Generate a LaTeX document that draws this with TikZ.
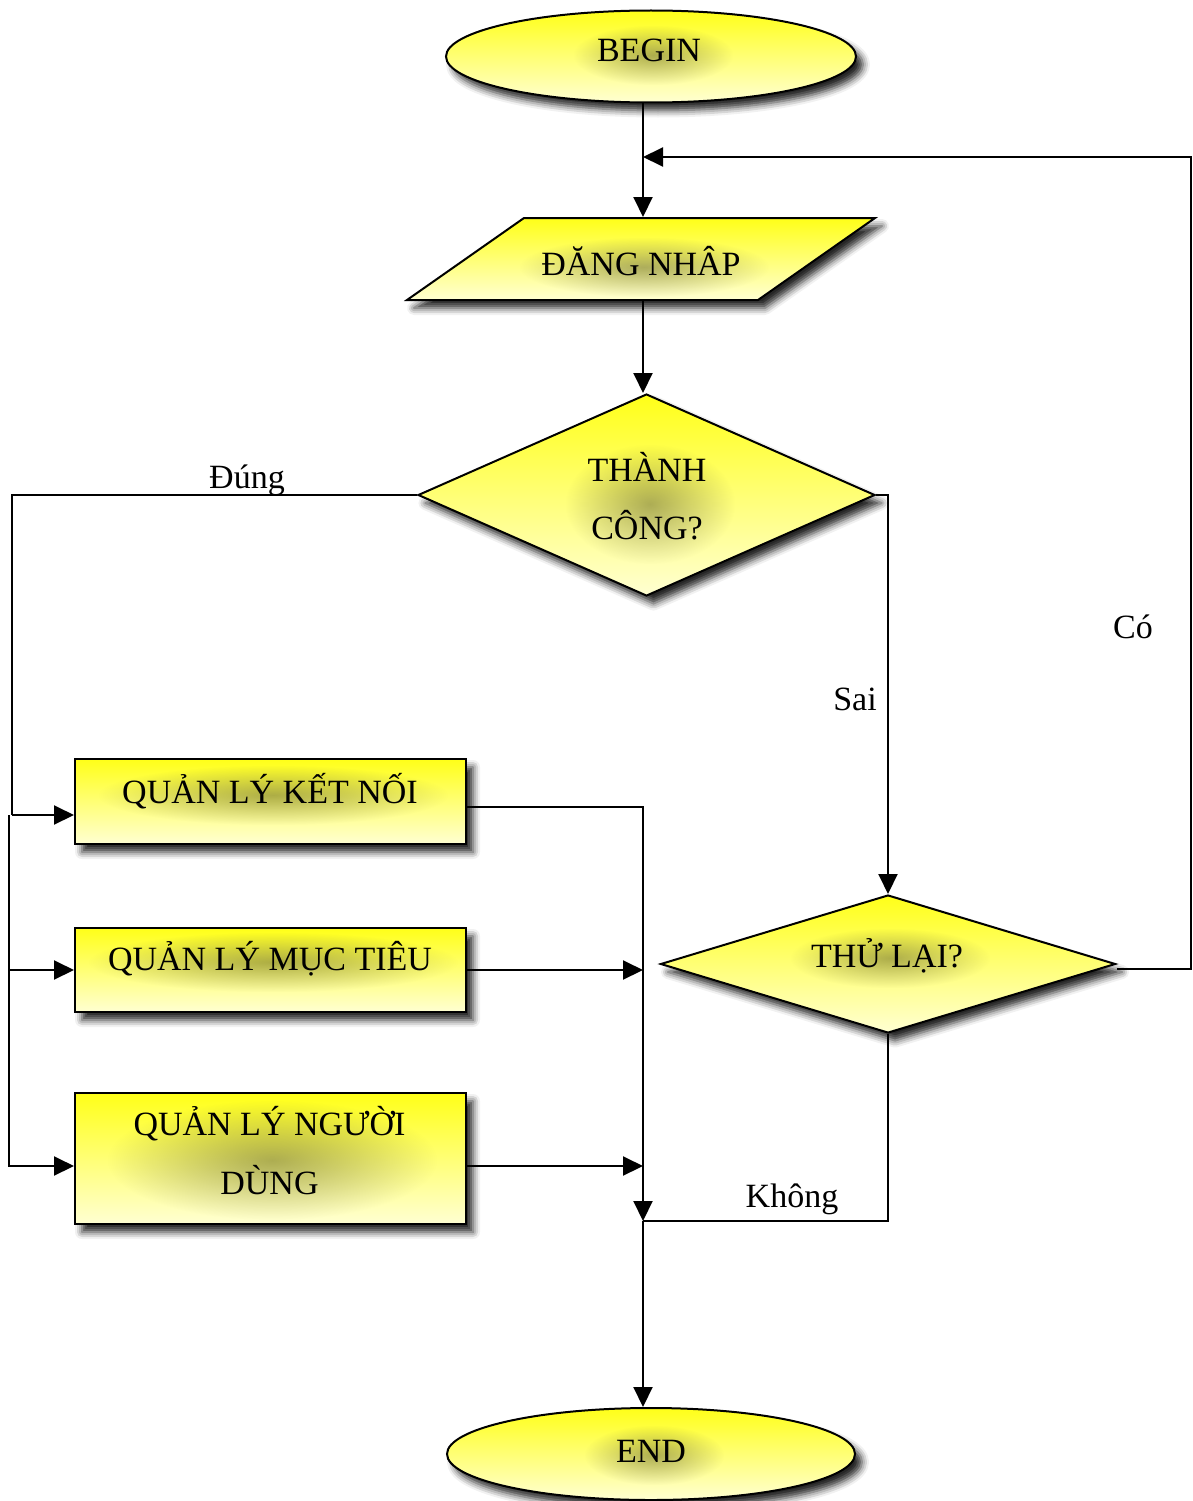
\documentclass[tikz,border=0pt]{standalone}
\usepackage{fontspec}
\setmainfont{Liberation Serif}
\usetikzlibrary{shapes.geometric, arrows.meta, shadows.blur, fadings}
\tikzfading[name=halo, inner color=transparent!0, outer color=transparent!100]
\definecolor{topyellow}{RGB}{255,255,24}
\definecolor{lowyellow}{RGB}{255,255,210}
% soft glow under a caption: centre x, centre y, half width, half height
\newcommand\txthalo[4]{\begin{scope}\fill[halofill] (#1-#3,#2-#4) rectangle (#1+#3,#2+#4);\end{scope}}
\begin{document}
\begin{tikzpicture}[x=1pt, y=-1pt, line width=2pt,
  >={Triangle[length=20pt,width=19pt]},
  flowbox/.style={draw=black, line width=2pt, top color=topyellow, bottom color=lowyellow,
    inner sep=0pt, blur shadow={shadow xshift=7pt, shadow yshift=-8pt,
    shadow blur radius=7pt, shadow opacity=85}},
  term/.style={flowbox, ellipse},
  decision/.style={flowbox, diamond},
  process/.style={flowbox, rectangle},
  frame/.style={inner sep=0pt},
  txt/.style={font=\fontsize{34pt}{40pt}\selectfont, anchor=base, inner sep=0pt},
  halofill/.style={fill=black, fill opacity=0.32, path fading=halo},
  link/.style={draw=black, opacity=1},
]
\useasboundingbox (0,0) rectangle (1192,1501);

% shapes
\node[term, minimum width=410pt, minimum height=92pt] (begin) at (651,56.5) {};
% input parallelogram, with a frame node for its anchors
\node[frame, minimum width=468pt, minimum height=82pt] (login) at (641,259) {};
\begin{scope}
  \path[flowbox] (524,218) -- (875,218) -- (758,300) -- (407,300) -- cycle;
\end{scope}
\node[decision, minimum width=457pt, minimum height=202pt] (ok) at (646.5,495) {};
\node[decision, minimum width=455pt, minimum height=138pt] (try) at (888,964) {};
\node[process, minimum width=391pt, minimum height=85pt] (b1) at (270.5,801.5) {};
\node[process, minimum width=391pt, minimum height=84pt] (b2) at (270.5,970) {};
\node[process, minimum width=391pt, minimum height=131pt] (b3) at (270.5,1158.5) {};
\node[term, minimum width=408pt, minimum height=92pt] (end) at (651,1454) {};

% glow behind the captions
\txthalo{653}{55}{80}{30}
\txthalo{644}{267}{125}{30}
\txthalo{650}{504}{85}{60}
\txthalo{273}{795}{175}{30}
\txthalo{273}{962}{185}{30}
\txthalo{272}{1160}{165}{60}
\txthalo{890}{958}{100}{30}
\txthalo{654}{1455}{70}{30}

% captions
\node[txt] (t-begin) at (649,62) {BEGIN};
\node[txt] (t-login) at (641,275) {ĐĂNG NHÂP};
\node[txt] (t-ok1) at (647,481) {THÀNH};
\node[txt] (t-ok2) at (647,539) {CÔNG?};
\node[txt] (t-b1) at (270,803) {QUẢN LÝ KẾT NỐI};
\node[txt] (t-b2) at (270,970) {QUẢN LÝ MỤC TIÊU};
\node[txt] (t-b31) at (269.5,1135) {QUẢN LÝ NGƯỜI};
\node[txt] (t-b32) at (269.5,1194) {DÙNG};
\node[txt] (t-try) at (887,967) {THỬ LẠI?};
\node[txt] (t-end) at (651,1462) {END};

% branch labels
\node[txt] (l-yes) at (247,488) {Đúng};
\node[txt] (l-no) at (855,710) {Sai};
\node[txt] (l-retry) at (1133,638) {Có};
\node[txt] (l-stop) at (792,1207) {Không};

% junction points
\coordinate (jTop) at (643,157);
\coordinate (rail) at (1191,157);
\coordinate (busA) at (12,815);
\coordinate (busB) at (9,815);
\coordinate (busC) at (9,1166);
\coordinate (mrg) at (643,1221);

% connectors
\begin{scope}[every path/.append style={link}]
\draw[->] (begin.south -| jTop) -- (login.north -| jTop);
\draw[->] (login.south -| jTop) -- (ok.north -| jTop);
\draw[->] ([yshift=-5pt]try.east) -| (rail) -- (jTop);
\draw (ok.west) -| (busA);
\draw[->] (busA) -- (busA -| b1.west);
\draw[->] (busB) -- (busC) -- (busC -| b3.west);
\draw[->] (busB |- b2.west) -- (b2.west);
\draw[->] (ok.east) -| (try.north);
\draw[->] ([yshift=-5pt]b1.east) -| (mrg);
\draw[->] (b2.east) -- (b2.east -| mrg);
\draw[->] (busC -| b3.east) -- (busC -| mrg);
\draw (try.south) |- (mrg);
\draw[->] (mrg) -- (end.north -| mrg);
\end{scope}
\end{tikzpicture}
\end{document}
